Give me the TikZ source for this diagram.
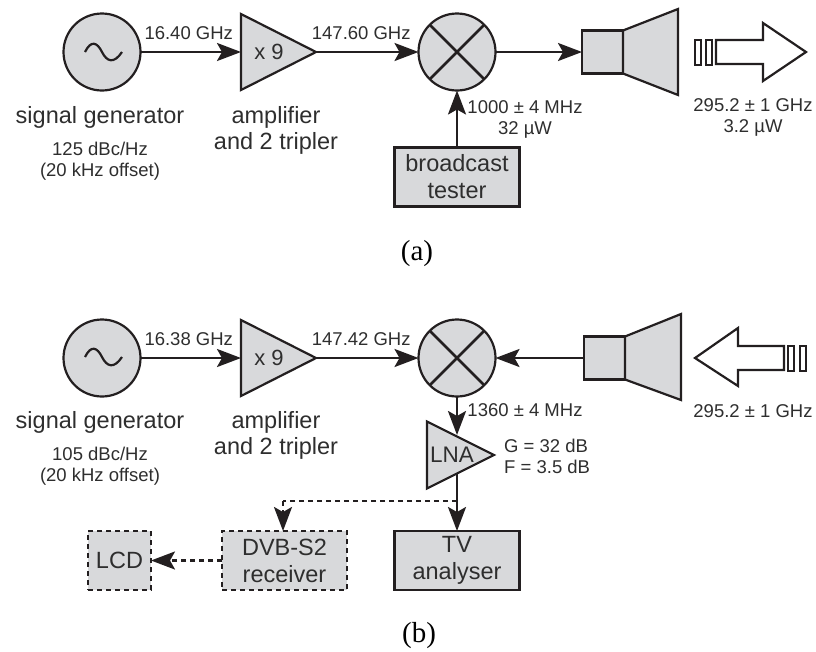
\documentclass[tikz,border=0pt]{standalone}
\usepackage{fontspec}
\setmainfont{Liberation Sans}
\newfontfamily\capfont{Liberation Serif}
\usepackage{tikz}
\usetikzlibrary{positioning,arrows.meta,shapes.geometric}
\definecolor{blockgray}{HTML}{D8D9DB}
\definecolor{inkdark}{HTML}{231F20}
\definecolor{textdark}{HTML}{2E2E2E}

\begin{document}
\begin{tikzpicture}[>={Stealth[width=18pt,length=24pt,inset=5pt]},
  every path/.style={color=inkdark},
  line/.style={line width=2.6pt},
  dashline/.style={line width=2.4pt, dash pattern=on 5pt off 4pt},
  block/.style={draw=inkdark, fill=blockgray, line width=2.2pt, outer sep=0pt, text=textdark, align=center, font=\fontsize{23.5}{27}\selectfont, inner sep=0pt},
  round/.style={block, circle, minimum size=77pt},
  amp/.style={block, isosceles triangle, isosceles triangle stretches, minimum width=76pt, minimum height=75pt},
  lna/.style={block, isosceles triangle, isosceles triangle stretches, minimum width=67pt, minimum height=67pt},
  box/.style={block, rectangle, minimum width=125pt, minimum height=59pt},
  bar/.style={draw=inkdark, line width=2pt, rectangle, minimum width=6pt, minimum height=25pt, inner sep=0pt, outer sep=0pt},
  wave/.style={line width=2.2pt},
  txt/.style={text=textdark, align=center, font=\fontsize{23.5}{26}\selectfont, inner sep=0pt},
  small/.style={text=textdark, align=center, font=\fontsize{18.5}{21}\selectfont, inner sep=0pt},
  lab/.style={small, above=11pt},
  captext/.style={text=black, font=\capfont\fontsize{29}{32}\selectfont, inner sep=0pt}]
\useasboundingbox (0pt,0pt) rectangle (816pt,-651pt);

% upper chain
\draw (102.0pt, -52.0pt)node[round](gen1){};
\draw (316.0pt, -52.0pt)node[amp,anchor=apex](amp1){};
\draw (269.0pt, -52.0pt)node[small,font=\fontsize{22}{24}\selectfont](amptxt1){x 9};
\draw (457.0pt, -52.0pt)node[round](mix1){};
\draw (602.5pt, -52.0pt)node[block,minimum width=41pt,minimum height=43pt](horn1){};
\draw (457.0pt, -177.0pt)node[box](tester){broadcast\\tester};
\draw[block] (horn1.north east) -- (678pt,-9pt) -- (678pt,-95pt) -- (horn1.south east) -- cycle;
\draw[wave,shift={(102pt,-52pt)}] (-17pt,0pt) .. controls (-11pt,12pt) and (-5pt,10pt) .. (0pt,0pt) .. controls (5pt,-10pt) and (12pt,-12pt) .. (20pt,0pt);
\draw[line] (mix1.45) -- (mix1.225);
\draw[line] (mix1.135) -- (mix1.315);
\path[->,line] (gen1) edge node[lab,xshift=-2pt]{16.40 GHz}(amp1.west);
\path[->,line] (amp1.apex) edge node[lab,xshift=-6pt]{147.60 GHz}(mix1);
\path[->,line] (mix1) edge (horn1);
\path[->,line] (tester) edge (mix1);
\draw (100.0pt, -117.0pt)node[txt](gentxt1){signal generator};
\draw (100.0pt, -161.0pt)node[small](gennote1){125 dBc/Hz\\(20 kHz offset)};
\draw (276.0pt, -130.0pt)node[txt](amplab1){amplifier\\and 2 tripler};
\draw (525.0pt, -119.0pt)node[small](lolab){1000 ± 4 MHz\\32 µW};
\draw (753.0pt, -117.0pt)node[small](rflab1){295.2 ± 1 GHz\\3.2 µW};
\draw[line width=2.2pt] (716pt,-40pt) -- (763pt,-40pt) -- (763pt,-23pt) -- (806pt,-52pt) -- (763pt,-81pt) -- (763pt,-64pt) -- (716pt,-64pt) -- cycle;
\draw (698.0pt, -52.0pt)node[bar](bar1){};
\draw (709.0pt, -52.0pt)node[bar](bar2){};
\draw (417.0pt, -254.0pt)node[captext](capa){(a)};

% lower chain
\draw (102.0pt, -358.0pt)node[round](gen2){};
\draw (316.0pt, -358.0pt)node[amp,anchor=apex](amp2){};
\draw (269.0pt, -358.0pt)node[small,font=\fontsize{22}{24}\selectfont](amptxt2){x 9};
\draw (457.0pt, -358.0pt)node[round](mix2){};
\draw (604.5pt, -358.0pt)node[block,minimum width=41pt,minimum height=43pt](horn2){};
\draw[block] (horn2.north east) -- (681pt,-314pt) -- (681pt,-400pt) -- (horn2.south east) -- cycle;
\draw[wave,shift={(102pt,-357pt)}] (-17pt,0pt) .. controls (-11pt,12pt) and (-5pt,10pt) .. (0pt,0pt) .. controls (5pt,-10pt) and (12pt,-12pt) .. (20pt,0pt);
\draw[line] (mix2.45) -- (mix2.225);
\draw[line] (mix2.135) -- (mix2.315);
\draw (494.0pt, -455.0pt)node[lna,anchor=apex](lna){};
\draw (452.0pt, -455.0pt)node[txt,font=\fontsize{22.5}{24}\selectfont](lnatxt){LNA};
\draw (457.0pt, -560.5pt)node[box](tv){TV\\analyser};
\draw (284.5pt, -560.5pt)node[box,dashline](dvb){DVB-S2\\receiver};
\draw (119.5pt, -560.5pt)node[box,dashline,minimum width=63pt](lcd){LCD};
\coordinate (lnaout) at (457pt,-474pt);
\coordinate (lnain) at (457pt,-435pt);
\coordinate (tap) at (457pt,-501pt);
\coordinate (bend) at (283pt,-501pt);
\path[->,line] (gen2) edge node[lab,xshift=-2pt]{16.38 GHz}(amp2.west);
\path[->,line] (amp2.apex) edge node[lab,xshift=-6pt]{147.42 GHz}(mix2);
\path[->,line] (horn2) edge (mix2);
\path[->,line] (mix2) edge (lnain);
\path[->,line] (lnaout) edge (tv);
\draw[dashline] (tap) -- (bend);
\draw[->,dashline] (bend) -- (bend |- dvb.north);
\draw[->,dashline] (dvb) -- (lcd);
\draw (100.0pt, -422.0pt)node[txt](gentxt2){signal generator};
\draw (100.0pt, -466.0pt)node[small](gennote2){105 dBc/Hz\\(20 kHz offset)};
\draw (276.0pt, -435.0pt)node[txt](amplab2){amplifier\\and 2 tripler};
\draw (525.0pt, -410.0pt)node[small](iflab){1360 ± 4 MHz};
\draw (504.0pt, -456.0pt)node[small,anchor=west,align=left](lnalab){G = 32 dB\\F = 3.5 dB};
\draw (753.0pt, -411.0pt)node[small](rflab2){295.2 ± 1 GHz};
\draw[line width=2.2pt] (784pt,-346pt) -- (738pt,-346pt) -- (738pt,-328pt) -- (695pt,-358pt) -- (738pt,-386pt) -- (738pt,-370pt) -- (784pt,-370pt) -- cycle;
\draw (791.0pt, -358.0pt)node[bar](bar3){};
\draw (802.5pt, -358.0pt)node[bar](bar4){};
\draw (419.0pt, -636.0pt)node[captext](capb){(b)};
\end{tikzpicture}
\end{document}
